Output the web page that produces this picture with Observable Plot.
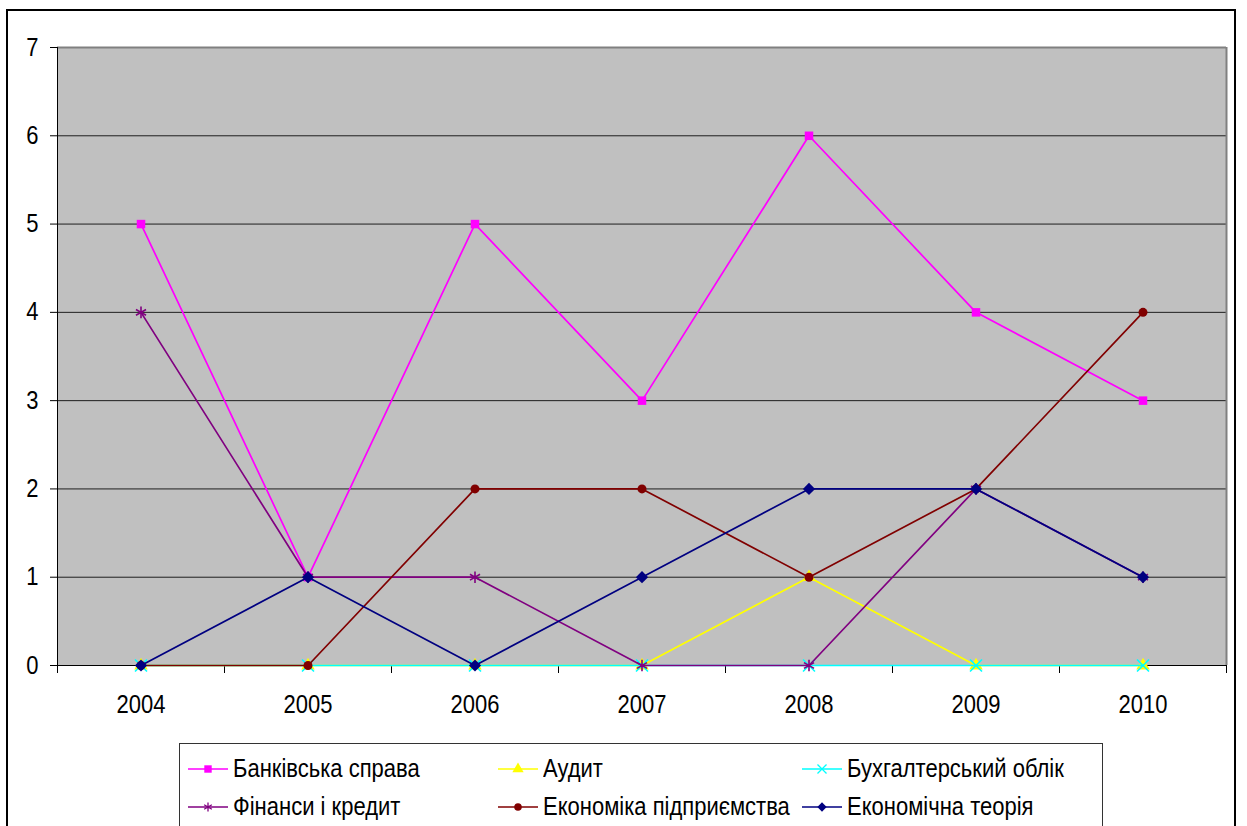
<!DOCTYPE html>
<html>
<head>
<meta charset="utf-8">
<script src="https://cdn.jsdelivr.net/npm/d3@7"></script>
<script src="https://cdn.jsdelivr.net/npm/@observablehq/plot@0.6"></script>
<style>
  html, body { margin: 0; padding: 0; background: #fff; }
  #page { position: relative; width: 1247px; height: 826px; overflow: hidden; font-family: "Liberation Sans", Arial, sans-serif; }
  #frame { position: absolute; left: 6px; top: 9px; width: 1230px; height: 900px; border: 2px solid #000; box-sizing: border-box; }
  #chart { position: absolute; left: 0; top: 0; }
  #legend { position: absolute; left: 179px; top: 743px; width: 924px; height: 120px; border: 1px solid #333; box-sizing: border-box; background: #fff; }
  .item { position: absolute; display: flex; align-items: center; height: 30px; font-size: 22px; color: #000; white-space: nowrap; }
  .item svg { margin-right: 5px; }
  .item span { display: inline-block; transform: scaleY(1.13); }
</style>
</head>
<body>
<div id="page">
  <div id="frame"></div>
  <div id="chart"></div>
  <div id="legend"></div>
</div>
<script>
// ---- data ----
const years = [2004, 2005, 2006, 2007, 2008, 2009, 2010];
const yTicks = [0, 1, 2, 3, 4, 5, 6, 7];
const seriesNames = ["Банківська справа", "Аудит", "Бухгалтерський облік", "Фінанси і кредит", "Економіка підприємства", "Економічна теорія"];
const bankivska   = [5, 1, 5, 3, 6, 4, 3];
const audyt       = [0, 0, 0, 0, 1, 0, 0];
const bukhOblik   = [0, 0, 0, 0, 0, 0, 0];
const finansy     = [4, 1, 1, 0, 0, 2, 1];
const ekonPidpr   = [0, 0, 2, 2, 1, 2, 4];
const ekonTeoriya = [0, 1, 0, 1, 2, 2, 1];
const seriesColors = ["#FF00FF", "#FFFF00", "#00FFFF", "#800080", "#800000", "#000080"];
const seriesSymbols = ["square", "triangle", "times", "asterisk", "circle", "diamond2"];

const seriesValues = [bankivska, audyt, bukhOblik, finansy, ekonPidpr, ekonTeoriya];
const bounds = d3.range(years.length + 1).map(i => years[0] - 0.5 + i);

const marks = [
  Plot.frame({fill: "#C0C0C0", stroke: null}),
  Plot.ruleY(yTicks.filter(v => v > 0 && v < 7), {stroke: "#000", strokeWidth: 1, strokeOpacity: 0.85}),
  Plot.ruleY([7], {stroke: "#808080", strokeWidth: 2}),
  Plot.ruleX([bounds[bounds.length - 1]], {stroke: "#808080", strokeWidth: 2, y1: 0, y2: 7}),
  Plot.axisY({ticks: yTicks, tickSize: 7, tickPadding: 12, fontSize: 22, tickFormat: d => String(d), label: null}),
  Plot.axisX({ticks: bounds, tickSize: 8, tickFormat: () => "", label: null}),
  Plot.axisX({ticks: years, tickSize: 0, tickPadding: 31, fontSize: 22, tickFormat: d => String(d), label: null}),
  Plot.ruleX([bounds[0]], {stroke: "#000", y1: 0, y2: 7}),
  Plot.ruleY([0], {stroke: "#000"})
];

seriesValues.forEach((vals, s) => {
  const data = years.map((y, i) => ({year: y, value: vals[i]}));
  const sym = seriesSymbols[s];
  const stroked = sym === "times" || sym === "asterisk";
  marks.push(Plot.line(data, {x: "year", y: "value", stroke: seriesColors[s], strokeWidth: 1.7}));
  marks.push(Plot.dot(data, {
    x: "year", y: "value", symbol: () => sym,
    r: sym === "circle" ? 4.5 : (sym === "square" ? 4.8 : (sym === "triangle" ? 5 : 5.5)),
    fill: stroked ? "none" : seriesColors[s],
    stroke: stroked ? seriesColors[s] : "none",
    strokeWidth: stroked ? 1.6 : 0
  }));
});

const chart = Plot.plot({
  width: 1247,
  height: 740,
  marginLeft: 57,
  marginRight: 21,
  marginTop: 47,
  marginBottom: 75,
  style: {background: "transparent", fontFamily: "'Liberation Sans', Arial, sans-serif", color: "#000", overflow: "visible"},
  x: {type: "linear", domain: [bounds[0], bounds[bounds.length - 1]], label: null},
  y: {domain: [0, 7], label: null},
  symbol: {type: "identity"},
  marks
});
document.getElementById("chart").appendChild(chart);

// stretch tick labels vertically (reference text is slightly tall)
d3.select(chart).selectAll("text").each(function() {
  if (!this.textContent) return;
  const bb = this.getBBox();
  const cy = bb.y + bb.height / 2;
  const t = this.getAttribute("transform") || "";
  this.setAttribute("transform", `${t} translate(0,${cy}) scale(1,1.13) translate(0,${-cy})`.trim());
});

// ---- legend ----
const legend = document.getElementById("legend");
const legendCols = [8, 318, 622];
const legendRows = [10, 48];
const symMap = {square: d3.symbolSquare, triangle: d3.symbolTriangle, times: d3.symbolTimes, asterisk: d3.symbolAsterisk, circle: d3.symbolCircle, diamond2: d3.symbolDiamond2};
seriesNames.forEach((name, s) => {
  const col = s % 3, row = Math.floor(s / 3);
  const item = document.createElement("div");
  item.className = "item";
  item.style.left = legendCols[col] + "px";
  item.style.top = legendRows[row] + "px";
  const svg = d3.create("svg").attr("width", 40).attr("height", 16);
  svg.append("line").attr("x1", 0).attr("x2", 40).attr("y1", 8).attr("y2", 8)
    .attr("stroke", seriesColors[s]).attr("stroke-width", 1.6);
  const sym = seriesSymbols[s];
  const stroked = sym === "times" || sym === "asterisk";
  svg.append("path").attr("transform", "translate(20,8)")
    .attr("d", d3.symbol(symMap[sym], sym === "circle" ? 45 : 55)())
    .attr("fill", stroked ? "none" : seriesColors[s])
    .attr("stroke", stroked ? seriesColors[s] : "none")
    .attr("stroke-width", 1.3);
  item.appendChild(svg.node());
  const span = document.createElement("span");
  span.textContent = name;
  item.appendChild(span);
  legend.appendChild(item);
});
</script>
</body>
</html>
